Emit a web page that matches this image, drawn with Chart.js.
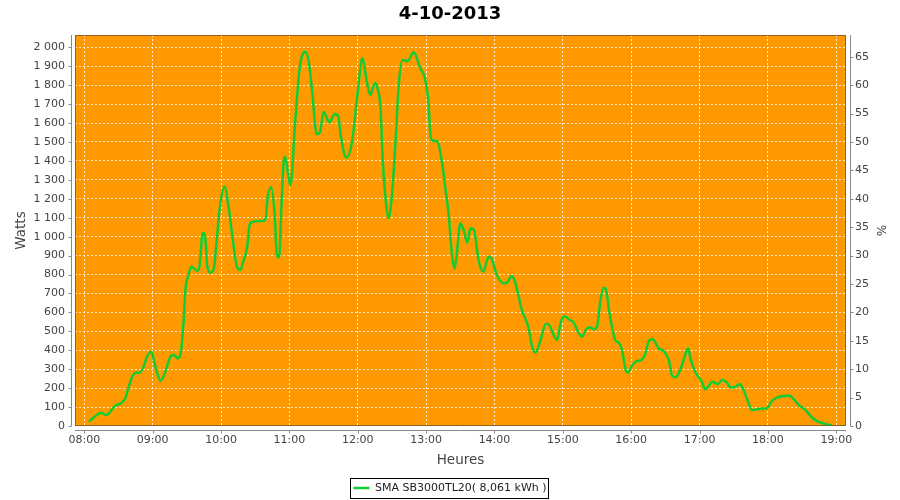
<!DOCTYPE html>
<html>
<head>
<meta charset="utf-8">
<script src="https://cdn.jsdelivr.net/npm/chart.js@4/dist/chart.umd.min.js"></script>
<style>
  html, body { margin: 0; padding: 0; background: #fff; }
</style>
</head>
<body>
<canvas id="powerChart" width="900" height="500"></canvas>
<script>
// Production of the inverter on 4-10-2013 (watts).
var times = [
    "08:04", "08:12", "08:15", "08:19", "08:21", "08:25", "08:28", "08:31", "08:36", "08:39",
    "08:44", "08:49", "08:52", "08:55", "08:59", "09:01", "09:04", "09:07", "09:10", "09:13",
    "09:16", "09:19", "09:22", "09:25", "09:27", "09:29", "09:31", "09:34", "09:39", "09:41",
    "09:44", "09:46", "09:48", "09:51", "09:54", "09:56", "09:59", "10:03", "10:07", "10:10",
    "10:14", "10:17", "10:19", "10:23", "10:25", "10:28", "10:36", "10:39", "10:41", "10:44",
    "10:47", "10:49", "10:51", "10:53", "10:55", "10:56", "11:01", "11:05", "11:09", "11:14",
    "11:17", "11:20", "11:24", "11:27", "11:30", "11:35", "11:40", "11:43", "11:45", "11:50",
    "11:55", "12:00", "12:04", "12:08", "12:11", "12:15", "12:17", "12:20", "12:22", "12:25",
    "12:27", "12:30", "12:33", "12:36", "12:39", "12:44", "12:49", "12:55", "12:59", "13:02",
    "13:04", "13:06", "13:10", "13:14", "13:17", "13:20", "13:22", "13:25", "13:27", "13:30",
    "13:33", "13:36", "13:39", "13:42", "13:46", "13:50", "13:55", "13:58", "14:02", "14:08",
    "14:11", "14:15", "14:18", "14:24", "14:30", "14:33", "14:36", "14:40", "14:45", "14:47",
    "14:52", "14:55", "14:58", "15:01", "15:06", "15:09", "15:14", "15:17", "15:20", "15:24",
    "15:27", "15:30", "15:33", "15:36", "15:38", "15:41", "15:46", "15:49", "15:52", "15:55",
    "15:57", "16:01", "16:05", "16:09", "16:12", "16:16", "16:19", "16:24", "16:28", "16:33",
    "16:36", "16:39", "16:43", "16:46", "16:50", "16:52", "16:56", "17:00", "17:02", "17:05",
    "17:08", "17:11", "17:16", "17:20", "17:24", "17:27", "17:31", "17:35", "17:38", "17:42",
    "17:46", "17:50", "17:55", "17:59", "18:03", "18:08", "18:14", "18:19", "18:22", "18:27",
    "18:33", "18:38", "18:44", "18:50", "18:56"
];
var watts = [
    23, 63, 70, 58, 63, 93, 111, 116, 146, 208,
    278, 283, 313, 366, 392, 349, 278, 239, 269, 322,
    370, 375, 357, 401, 542, 736, 789, 841, 820, 841,
    1021, 1000, 841, 810, 841, 965, 1158, 1264, 1141, 1000,
    841, 824, 859, 947, 1061, 1079, 1083, 1091, 1211, 1261,
    1123, 903, 891, 1158, 1396, 1422, 1273, 1599, 1889, 1977,
    1924, 1766, 1541, 1554, 1660, 1604, 1648, 1634, 1537, 1417,
    1502, 1766, 1942, 1818, 1748, 1810, 1792, 1678, 1396, 1167,
    1097, 1220, 1484, 1801, 1933, 1928, 1974, 1889, 1836, 1713,
    1528, 1507, 1502, 1390, 1250, 1105, 947, 833, 912, 1071,
    1035, 968, 1044, 1035, 877, 815, 894, 877, 797, 754,
    757, 792, 762, 613, 516, 419, 389, 445, 539, 539,
    481, 454, 542, 581, 560, 551, 490, 472, 507, 521,
    511, 524, 665, 732, 718, 595, 454, 440, 400, 300,
    282, 322, 343, 349, 375, 454, 458, 410, 398, 349,
    264, 257, 296, 349, 410, 357, 287, 252, 234, 194,
    211, 234, 222, 243, 229, 204, 204, 222, 199, 137,
    84, 88, 93, 93, 128, 151, 158, 160, 146, 111,
    84, 49, 23, 11, 2
];
var hourTicks = [8, 9, 10, 11, 12, 13, 14, 15, 16, 17, 18, 19];
var wattTicks = [0, 100, 200, 300, 400, 500, 600, 700, 800, 900, 1000,
                 1100, 1200, 1300, 1400, 1500, 1600, 1700, 1800, 1900, 2000];
var percentTicks = [0, 5, 10, 15, 20, 25, 30, 35, 40, 45, 50, 55, 60, 65];
var seriesName = "SMA SB3000TL20( 8,061 kWh )";
var chartTitle = "4-10-2013";
var nominalWatts = 3000;    // 100 % on the right axis
var wattMax = 2065;
var hourMin = 7.864, hourMax = 19.142;

var FONT = "'DejaVu Sans', sans-serif";
var TICK_COLOR = "#444444";
var AXIS_COLOR = "#888888";

function toHours(s) {
    var p = s.split(":");
    return +p[0] + p[1] / 60;
}

function hhmm(v) {
    var h = Math.floor(v + 1e-6);
    var m = Math.round((v - h) * 60);
    return (h < 10 ? "0" : "") + h + ":" + (m < 10 ? "0" : "") + m;
}

function spaced(v) {
    return String(v).replace(/\B(?=(\d{3})+(?!\d))/g, " ");
}

function fixedTicks(list) {
    return function(scale) {
        scale.ticks = list.map(function(v) { return {value: v}; });
    };
}

var points = times.map(function(t, i) {
    return {x: toHours(t), y: watts[i]};
});

// Orange plot, offset axis lines and the frame around the legend.
var plotFrame = {
    id: "plotFrame",
    beforeDraw: function(chart) {
        var a = chart.chartArea, ctx = chart.ctx;
        ctx.save();
        ctx.fillStyle = "#ff9900";
        ctx.fillRect(a.left, a.top, a.right - a.left, a.bottom - a.top);
        ctx.restore();
    },
    afterDraw: function(chart) {
        var a = chart.chartArea, ctx = chart.ctx;
        var sx = chart.scales.x, sy = chart.scales.y, sy2 = chart.scales.y2;
        ctx.save();
        ctx.lineWidth = 1;

        // plot outline
        ctx.strokeStyle = "rgba(110, 80, 40, 0.75)";
        ctx.strokeRect(a.left + 0.5, a.top + 0.5, a.right - a.left - 1, a.bottom - a.top - 1);

        ctx.strokeStyle = AXIS_COLOR;
        ctx.beginPath();
        var lx = a.left - 3.5, rx = a.right + 4.5, by = a.bottom + 4.5;
        ctx.moveTo(lx, a.top); ctx.lineTo(lx, a.bottom);
        ctx.moveTo(rx, a.top); ctx.lineTo(rx, a.bottom);
        ctx.moveTo(a.left, by); ctx.lineTo(a.right, by);
        sy.ticks.forEach(function(t) {
            var y = Math.round(sy.getPixelForValue(t.value)) + 0.5;
            ctx.moveTo(lx - 3, y); ctx.lineTo(lx, y);
        });
        sy2.ticks.forEach(function(t) {
            var y = Math.round(sy2.getPixelForValue(t.value)) + 0.5;
            ctx.moveTo(rx, y); ctx.lineTo(rx + 3, y);
        });
        sx.ticks.forEach(function(t) {
            var x = Math.round(sx.getPixelForValue(t.value)) + 0.5;
            ctx.moveTo(x, by); ctx.lineTo(x, by + 3);
        });
        ctx.stroke();

        var box = chart.legend.legendHitBoxes[0];
        if (box) {
            ctx.strokeStyle = "#000000";
            ctx.strokeRect(Math.round(box.left) - 2.5, Math.round(box.top) - 4.5,
                           Math.round(box.width) + 5, Math.round(box.height) + 9);
        }
        ctx.restore();
    }
};

var gridLines = {
    color: "rgba(255, 255, 255, 0.8)",
    lineWidth: 1,
    drawTicks: false
};

var config = {
    type: "line",
    data: {
        datasets: [{
            label: seriesName,
            data: points,
            borderColor: "#12cc36",
            backgroundColor: "#12cc36",
            borderWidth: 2.5,
            pointRadius: 0,
            cubicInterpolationMode: "monotone",
            fill: false
        }]
    },
    options: {
        responsive: false,
        animation: false,
        events: [],
        layout: { padding: { left: 0, right: 0, top: 0, bottom: -3.5 } },
        scales: {
            x: {
                type: "linear",
                min: hourMin,
                max: hourMax,
                afterBuildTicks: fixedTicks(hourTicks),
                afterFit: function(s) { s.height = 52.5; },
                grid: gridLines,
                border: { display: false, dash: [2, 2] },
                ticks: {
                    autoSkip: false,
                    maxRotation: 0,
                    padding: 8,
                    color: TICK_COLOR,
                    font: { family: FONT, size: 11 },
                    callback: function(v) { return hhmm(v); }
                },
                title: {
                    display: true,
                    text: "Heures",
                    color: TICK_COLOR,
                    font: { family: FONT, size: 13.5 },
                    padding: { top: 0, bottom: 10.4 }
                }
            },
            y: {
                type: "linear",
                position: "left",
                min: 0,
                max: wattMax,
                afterBuildTicks: fixedTicks(wattTicks),
                afterFit: function(s) { s.width = 75; },
                grid: gridLines,
                border: { display: false, dash: [2, 2] },
                ticks: {
                    autoSkip: false,
                    padding: 10,
                    color: TICK_COLOR,
                    font: { family: FONT, size: 11 },
                    callback: function(v) { return spaced(v); }
                },
                title: {
                    display: true,
                    text: "Watts",
                    color: TICK_COLOR,
                    font: { family: FONT, size: 13.5 },
                    padding: { top: 13, bottom: 0 }
                }
            },
            y2: {
                type: "linear",
                position: "right",
                min: 0,
                max: wattMax / nominalWatts * 100,
                afterBuildTicks: fixedTicks(percentTicks),
                afterFit: function(s) { s.width = 54; },
                grid: { drawOnChartArea: false, drawTicks: false },
                border: { display: false },
                ticks: {
                    autoSkip: false,
                    padding: 9,
                    color: TICK_COLOR,
                    font: { family: FONT, size: 11 },
                    callback: function(v) { return String(v); }
                },
                title: {
                    display: true,
                    text: "%",
                    color: TICK_COLOR,
                    font: { family: FONT, size: 12 },
                    padding: { top: 13, bottom: 0 }
                }
            }
        },
        plugins: {
            title: {
                display: true,
                text: chartTitle,
                color: "#000000",
                font: { family: FONT, size: 18, weight: "bold" },
                padding: { top: 4, bottom: 9.4 }
            },
            legend: {
                position: "bottom",
                labels: {
                    usePointStyle: true,
                    pointStyle: "line",
                    pointStyleWidth: 16,
                    padding: 4,
                    color: "#222222",
                    font: { family: FONT, size: 11 }
                }
            },
            tooltip: { enabled: false }
        }
    },
    plugins: [plotFrame]
};

var powerChart = new Chart(document.getElementById("powerChart").getContext("2d"), config);
</script>
</body>
</html>
